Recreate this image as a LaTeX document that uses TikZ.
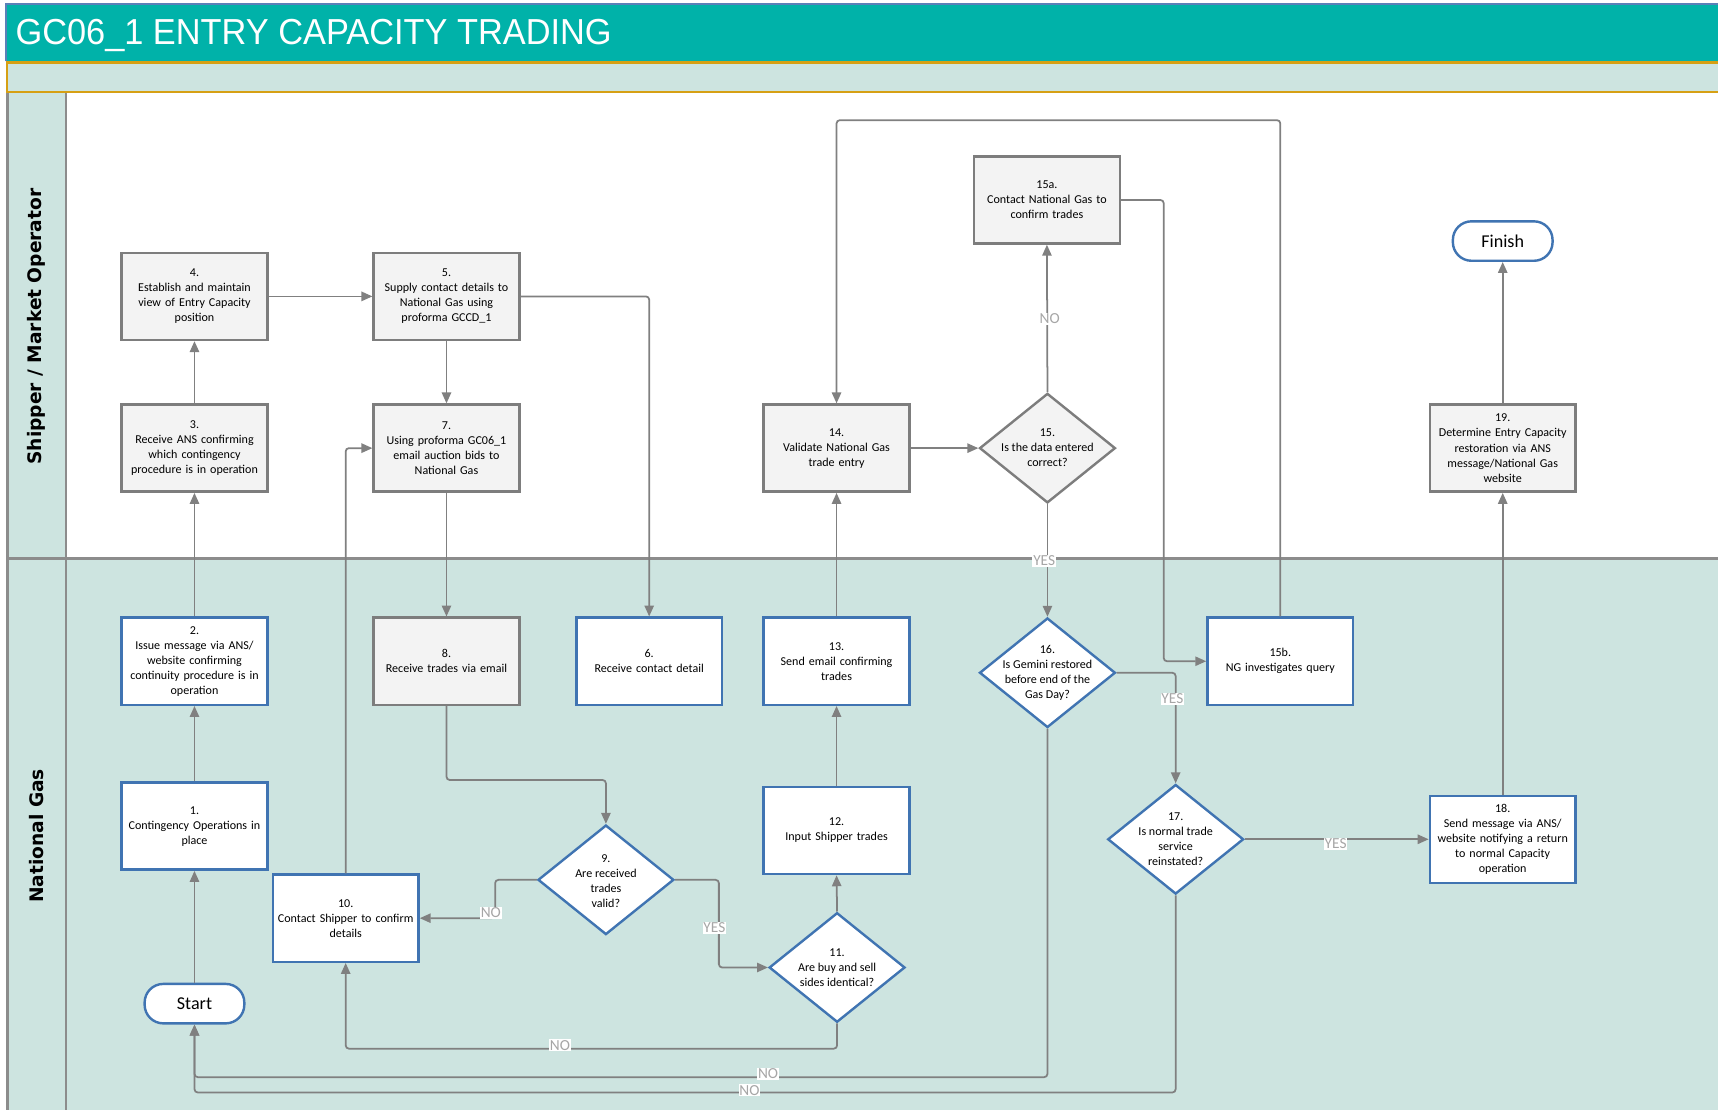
\documentclass[tikz,border=0pt]{standalone}
\usepackage{fontspec}
\setmainfont{Carlito}
\newfontfamily\lanefont{DejaVu Sans}
\newfontfamily\titlefont{Liberation Sans}
\usetikzlibrary{arrows.meta,shapes.geometric,calc}
\definecolor{hdrteal}{RGB}{0,178,169}
\definecolor{laneteal}{RGB}{205,228,224}
\definecolor{goldline}{RGB}{214,160,20}
\definecolor{blueline}{RGB}{90,128,184}
\definecolor{boxblue}{RGB}{64,116,178}
\definecolor{boxgray}{RGB}{125,125,125}
\definecolor{boxfill}{RGB}{243,243,243}
\definecolor{conngray}{RGB}{128,128,128}
\definecolor{lblgray}{RGB}{166,166,166}
\definecolor{laneline}{RGB}{140,140,140}
\newcommand{\boxfont}{\fontsize{11}{13.7}\selectfont}
\begin{document}
\begin{tikzpicture}[x=1pt,y=-1pt,
  boxbase/.style={rectangle, line width=2.2pt, minimum width=133pt, minimum height=79.5pt,
    text width=130pt, align=center, inner sep=0pt, font=\boxfont},
  gbox/.style={boxbase, draw=boxgray, fill=boxfill},
  bbox/.style={boxbase, draw=boxblue, fill=white},
  decbase/.style={diamond, line width=2.2pt, minimum width=124pt, minimum height=100pt, inner sep=0pt},
  gdec/.style={decbase, draw=boxgray, fill=boxfill},
  bdec/.style={decbase, draw=boxblue, fill=white},
  dtext/.style={align=center, inner sep=0pt, font=\boxfont},
  term/.style={rectangle, rounded corners=17pt, draw=boxblue, fill=white, line width=2.2pt,
    minimum width=91pt, minimum height=36pt, inner sep=0pt, font=\fontsize{16.5}{18}\selectfont},
  conn/.style={draw=conngray, line width=1.6pt, rounded corners=3pt,
    -{Triangle[length=10pt,width=8.5pt]}},
  lbl/.style={fill=white, text=lblgray, inner sep=0.8pt, font=\fontsize{14}{15}\selectfont},
  lanelbl/.style={rotate=90, font=\lanefont\bfseries\fontsize{17}{20}\selectfont}
]
\useasboundingbox (0,0) rectangle (1568,1013);
% backgrounds
\fill[white] (0,0) rectangle (1568,1013);
\fill[laneteal] (60,510) rectangle (1568,1013);
\fill[laneteal] (7,85) rectangle (60,1013);
\fill[hdrteal] (5,4) rectangle (1575,56);
\draw[blueline, line width=1.5pt] (5.5,56) -- (5.5,3.5) -- (1575,3.5);
\fill[laneteal] (6,57) rectangle (1575,84);
\draw[goldline, line width=2.5pt] (1575,57) -- (6.5,57) -- (6.5,84) -- (1575,84);
\draw[laneline, line width=2.5pt] (7,85) -- (7,1020);
\draw[laneline, line width=2pt] (60,85) -- (60,1020);
\draw[laneline, line width=2.5pt] (7,510) -- (1575,510);
% title and lanes
\node[anchor=base west, text=white, font=\titlefont\fontsize{33}{38}\selectfont, inner sep=0pt] (title) at (14,41) {\scalebox{0.95}[1]{GC06\_1 ENTRY CAPACITY TRADING}};
\node[lanelbl] (lane1) at (33.5,298) {Shipper / Market Operator};
\node[lanelbl] (lane2) at (33.5,763) {National Gas};
% shipper lane
\node[gbox] (n4) at (177.5,270.5) {4.\\Establish and maintain\\view of Entry Capacity\\position};
\node[gbox] (n5) at (407.5,270.5) {5.\\Supply contact details to\\National Gas using\\proforma GCCD\_1};
\node[gbox] (n3) at (177.5,409) {3.\\Receive ANS confirming\\which contingency\\procedure is in operation};
\node[gbox] (n7) at (407.5,409) {7.\\Using proforma GC06\_1\\email auction bids to\\National Gas};
\node[gbox] (n14) at (763.5,409) {14.\\Validate National Gas\\trade entry};
\node[gbox] (n15a) at (955.5,182.5) {15a.\\Contact National Gas to\\confirm trades};
\node[gbox] (n19) at (1371.5,409) {19.\\Determine Entry Capacity\\restoration via ANS\\message/National Gas\\website};
\node[gdec] (d15) at (956,409) {};
\node[dtext] (d15t) at (956,409) {15.\\Is the data entered\\correct?};
\node[term] (finish) at (1371.5,220) {Finish};
% national gas lane
\node[bbox] (n2) at (177.5,603.5) {2.\\Issue message via ANS/\\website confirming\\continuity procedure is in\\operation};
\node[gbox] (n8) at (407.5,603.5) {8.\\Receive trades via email};
\node[bbox] (n6) at (592.5,603.5) {6.\\Receive contact detail};
\node[bbox] (n13) at (763.5,603.5) {13.\\Send email confirming\\trades};
\node[bbox] (n15b) at (1168.5,603.5) {15b.\\NG investigates query};
\node[bbox] (n1) at (177.5,754) {1.\\Contingency Operations in\\place};
\node[bbox] (n12) at (763.5,758) {12.\\Input Shipper trades};
\node[bbox] (n18) at (1371.5,766) {18.\\Send message via ANS/\\website notifying a return\\to normal Capacity\\operation};
\node[bbox] (n10) at (315.5,838) {10.\\Contact Shipper to confirm\\details};
\node[bdec] (d16) at (956,614) {};
\node[dtext] (d16t) at (956,614) {16.\\Is Gemini restored\\before end of the\\Gas Day?};
\node[bdec] (d17) at (1073,766) {};
\node[dtext] (d17t) at (1073,766) {17.\\Is normal trade\\service\\reinstated?};
\node[bdec] (d9) at (553,803) {};
\node[dtext] (d9t) at (553,804) {9.\\Are received\\trades\\valid?};
\node[bdec] (d11) at (764,883) {};
\node[dtext] (d11t) at (764,883) {11.\\Are buy and sell\\sides identical?};
\node[term] (start) at (177.5,916) {Start};
% connectors
\draw[conn] (start.north) -- (n1.south);
\draw[conn] (n1.north) -- (n2.south);
\draw[conn] (n2.north) -- (n3.south);
\draw[conn] (n3.north) -- (n4.south);
\draw[conn] (n4.east) -- (n5.west);
\draw[conn] (n5.east) -| (n6.north);
\draw[conn] (n5.south) -- (n7.north);
\draw[conn] (n7.south) -- (n8.north);
\draw[conn] (n8.south) |- ($(d9.north)+(0,-40)$) -- (d9.north);
\draw[conn] (d9.west) -- ++(-38,0) |- (n10.east);
\draw[conn] (d9.east) -- ++(40,0) |- (d11.west);
\draw[conn] (n10.north) |- (n7.west);
\draw[conn] (d11.south) -- ++(0,23) -| (n10.south);
\draw[conn] (d11.north) -- (n12.south);
\draw[conn] (n12.north) -- (n13.south);
\draw[conn] (n13.north) -- (n14.south);
\draw[conn] (n14.east) -- (d15.west);
\draw[conn] (d15.north) -- (n15a.south);
\draw[conn] (d15.south) -- (d16.north);
\draw[conn] (n15a.east) -- ++(39,0) |- (n15b.west);
\draw[conn] (n15b.north) -- ++(0,-453) -| (n14.north);
\draw[conn] (d16.east) -| (d17.north);
\draw[conn] (d16.south) -- ++(0,318) -| (start.south);
\draw[conn] (d17.south) -- ++(0,180) -| (start.south);
\draw[conn] (d17.east) -- (n18.west);
\draw[conn] (n18.north) -- (n19.south);
\draw[conn] (n19.north) -- (finish.south);
% labels
\node[lbl] (l9no) at (448,833) {NO};
\node[lbl] (l9yes) at (652,847) {YES};
\node[lbl] (l11no) at (511,954) {NO};
\node[lbl] (l15no) at (958,291) {NO};
\node[lbl] (l15yes) at (953,512) {YES};
\node[lbl] (l16yes) at (1070,638) {YES};
\node[lbl] (l17yes) at (1219,770) {YES};
\node[lbl] (l16no) at (701,980) {NO};
\node[lbl] (l17no) at (684,995) {NO};
\end{tikzpicture}
\end{document}
